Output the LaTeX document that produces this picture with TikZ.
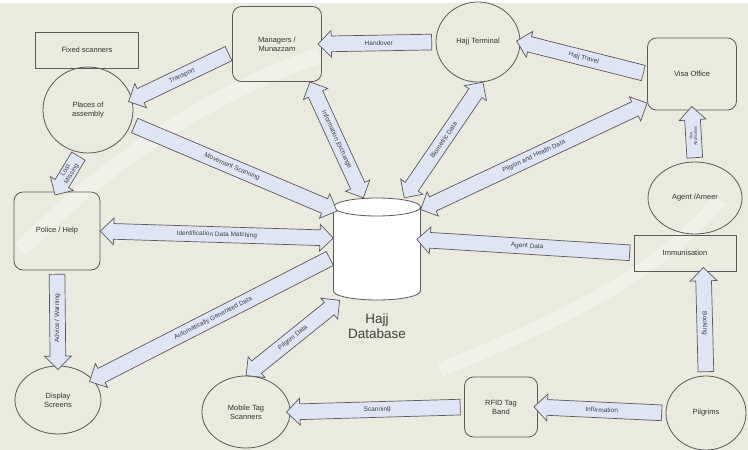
\documentclass[tikz,border=0pt]{standalone}
\usepackage{fontspec}
\setmainfont{Liberation Sans}
\usetikzlibrary{shapes.geometric,shapes.arrows,calc}

\definecolor{paper}{RGB}{234,234,223}
\definecolor{flowfill}{RGB}{224,229,246}
\definecolor{ink}{RGB}{90,90,90}

\tikzstyle{entity}=[draw=ink,line width=0.8pt,font=\fontsize{7.5}{9}\selectfont,text=black!80,align=center,inner sep=2pt]
\tikzstyle{circ}=[entity,ellipse]
\tikzstyle{box}=[entity,rectangle]
\tikzstyle{rbox}=[entity,rectangle,rounded corners=9pt]
\tikzstyle{flow}=[draw=ink,fill=flowfill,line width=0.7pt,inner sep=7.5pt,outer sep=0pt,minimum width=0pt]
\tikzstyle{onehead}=[single arrow,single arrow head extend=5.5pt]
\tikzstyle{twohead}=[double arrow,double arrow head extend=5.5pt]
\tikzstyle{lbl}=[font=\fontsize{6.5}{7}\selectfont,text=black!75,inner sep=0pt,align=center]
\tikzstyle{lblsl}=[sloped]
\tikzstyle{lblup}=[rotate=90]
\tikzstyle{lbltiny}=[rotate=90,font=\fontsize{4}{4.5}\selectfont]

\begin{document}
\begin{tikzpicture}[x=1pt,y=-1pt]
\useasboundingbox (0,0) rectangle (748,450);
\fill[paper] (0,3) rectangle (748,450);
% faint light swooshes in the background
\draw[white,opacity=.35,line width=16pt] (20,250) .. controls (120,150) and (220,90) .. (320,55);
\draw[white,opacity=.35,line width=14pt] (440,370) .. controls (560,320) and (650,280) .. (720,200);

\foreach \pos/\name/\kind/\w/\h/\txt in {
 {(87,50)/fixed/box/103/36/{Fixed scanners}},
 {(88,110)/assembly/circ/90/86/{Places of\\assembly}},
 {(277,44)/managers/rbox/89/75/{Managers /\\Munazzam}},
 {(478,42)/terminal/circ/84/80/{Hajj Terminal}},
 {(692,74)/visa/rbox/89/72/{Visa Office}},
 {(57,231)/police/rbox/86/78/{Police / Help}},
 {(58,400)/display/circ/86/68/{Display\\Screens}},
 {(695,198)/agent/circ/94/72/{Agent /Ameer}},
 {(685,253)/immun/box/102/36/{Immunisation}},
 {(706,413)/pilgrims/circ/80/74/{Pilgrims}},
 {(501,407)/rfid/rbox/73/60/{RFID Tag\\Band}},
 {(246,412)/mobile/circ/88/72/{Mobile Tag\\Scanners}}}
\node[\kind,minimum width=\w,minimum height=\h] (\name) at \pos {\txt};

% database drum
\node[minimum width=87pt,minimum height=102pt,inner sep=0pt] (db) at (377,249) {};
\begin{scope}[shift={(db.center)},x=1pt,y=1pt]
\draw[ink,fill=white,line width=0.8pt] (-43.5,42) -- (-43.5,-42) arc[start angle=180,end angle=360,x radius=43.5,y radius=9]
  -- (43.5,42) arc[start angle=0,end angle=180,x radius=43.5,y radius=9] -- cycle;
\draw[ink,line width=0.8pt] (-43.5,42) arc[start angle=180,end angle=360,x radius=43.5,y radius=9];
\end{scope}
\node[font=\fontsize{13.5}{15}\selectfont,text=black!75,align=center] (dbname) at (377,326) {Hajj\\Database};

\foreach \kind/\src/\dst/\lsty/\txt in {
 onehead/terminal.west/managers.east/lblsl/Handover,
 onehead/visa.west/terminal.east/lblsl/Hajj Travel,
 onehead/managers.190/assembly.13/lblsl/Transport,
 twohead/db.105/managers.-49/lblsl/Information Exchange,
 twohead/db.62/terminal.-83/lblsl/Biometric Data,
 twohead/db.42/visa.213/lblsl/Pilgrim and Health Data,
 onehead/assembly.-18/db.138/lblsl/Movement Scanning,
 onehead/assembly.-100/police.north/lblsl/{Lost\\Missing},
 twohead/police.east/db.166/lblsl/Identification Data Matching,
 onehead/db.190/display.30/lblsl/Automatically Generated Data,
 twohead/mobile.north/db.-126/lblsl/Pilgrim Data,
 onehead/police.south/display.north/lblup/{Advice / Warning},
 onehead/immun.west/db.12/lblsl/Agent Data,
 onehead/agent.north/visa.south/lbltiny/{Visa\\Application},
 onehead/pilgrims.north/immun.-45/lblsl/Booking,
 onehead/pilgrims.west/rfid.east/lblsl/Information,
 onehead/rfid.west/mobile.east/lblsl/Scanning}
{
\path let \p1=($(\dst)-(\src)$), \n1={veclen(\x1,\y1)}, \n2={atan2(\y1,\x1)} in
  node[flow,\kind,minimum height=\n1,rotate=\n2] at ($(\src)!.5!(\dst)$) {};
\path (\src) -- node[lbl,\lsty] {\txt} (\dst);
}
\end{tikzpicture}
\end{document}
